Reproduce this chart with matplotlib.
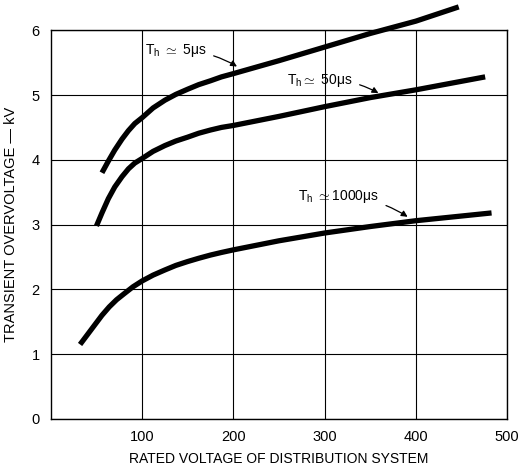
import matplotlib
matplotlib.use('Agg')
import matplotlib.pyplot as plt

plt.rcParams['font.family'] = ['Liberation Sans', 'DejaVu Sans']
plt.rcParams['mathtext.fontset'] = 'custom'
plt.rcParams['mathtext.rm'] = 'Liberation Sans'
plt.rcParams['mathtext.it'] = 'Liberation Sans'

# curves (rated voltage, transient overvoltage kV)
x_5us = [56, 63, 70, 78, 85, 92, 100, 112, 125, 137, 150, 162, 175, 187, 200, 250, 300, 350, 400, 447]
y_5us = [3.8, 3.98, 4.15, 4.32, 4.45, 4.56, 4.65, 4.8, 4.92, 5.01, 5.09, 5.16, 5.22, 5.28, 5.33,
         5.53, 5.74, 5.95, 6.14, 6.36]

x_50us = [50, 56, 63, 70, 78, 85, 92, 100, 112, 125, 137, 150, 162, 175, 187, 200, 250, 300, 350, 400, 476]
y_50us = [2.98, 3.18, 3.4, 3.58, 3.74, 3.86, 3.95, 4.02, 4.13, 4.22, 4.29, 4.35, 4.41, 4.46, 4.5, 4.53,
          4.67, 4.82, 4.96, 5.08, 5.28]

x_1000us = [32, 40, 48, 56, 64, 72, 80, 90, 100, 112, 125, 137, 150, 162, 175, 187, 200, 250, 300, 350,
            400, 483]
y_1000us = [1.15, 1.3, 1.45, 1.6, 1.73, 1.84, 1.93, 2.04, 2.13, 2.22, 2.3, 2.37, 2.43, 2.48, 2.53, 2.57,
            2.61, 2.75, 2.87, 2.97, 3.06, 3.18]

labels = [r'T$_\mathrm{h}$ $\simeq$ 5$\mu$s', r'T$_\mathrm{h}$$\simeq$ 50$\mu$s',
          r'T$_\mathrm{h}$ $\simeq$1000$\mu$s']
label_pos = [(171, 5.68), (331, 5.23), (360, 3.43)]
arrow_tip = [(204, 5.44), (359, 5.03), (391, 3.12)]

xticks = [100, 200, 300, 400, 500]
yticks = [0, 1, 2, 3, 4, 5, 6]

fig = plt.figure(figsize=(5.19, 4.65), dpi=100)
ax = fig.add_axes([0.098, 0.099, 0.879, 0.836])

for xs, ys in [(x_5us, y_5us), (x_50us, y_50us), (x_1000us, y_1000us)]:
    ax.plot(xs, ys, color='black', lw=3.8, solid_capstyle='butt', solid_joinstyle='round',
            clip_on=False, zorder=3)

for lab, (tx, ty), (ax_, ay) in zip(labels, label_pos, arrow_tip):
    ax.annotate(lab, xy=(ax_, ay), xytext=(tx, ty), ha='right', va='center', fontsize=10,
                arrowprops=dict(arrowstyle='-|>', color='black', lw=0.9, shrinkA=3, shrinkB=0,
                                mutation_scale=9, connectionstyle='arc3,rad=-0.15'))

ax.set_xlim(0, 500)
ax.set_ylim(0, 6)
ax.set_xticks(xticks)
ax.set_yticks(yticks)
ax.grid(True, color='black', lw=0.8)
ax.tick_params(length=0, labelsize=10.5, pad=8)
for s in ax.spines.values():
    s.set_linewidth(1.0)

ax.set_xlabel('RATED VOLTAGE OF DISTRIBUTION SYSTEM', fontsize=10, labelpad=6)
ax.set_ylabel('TRANSIENT OVERVOLTAGE — kV', fontsize=10.5, labelpad=10)

fig.savefig('out.png', dpi=100)
